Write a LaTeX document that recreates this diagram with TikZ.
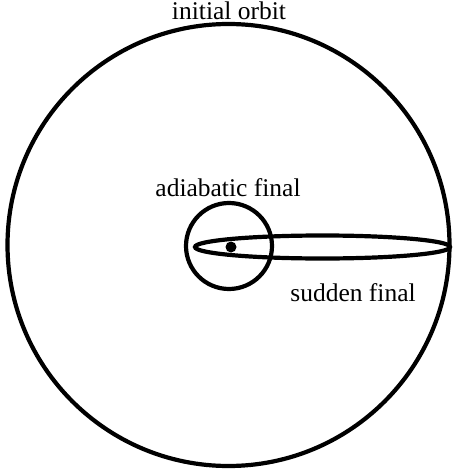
\documentclass[tikz,border=0pt]{standalone}
\usepackage{fontspec}
\setmainfont{Liberation Serif}
\usetikzlibrary{positioning}
\tikzset{orbit/.style={draw=black, line width=4.2pt},
  lbl/.style={font=\fontsize{25.5}{28}\selectfont, inner sep=0pt}}

\begin{document}
\begin{tikzpicture}[x=1pt, y=-1pt]
    \useasboundingbox (0,0) rectangle (452,476);
    \draw[orbit] (228.5,245) circle[radius=221];
    \draw[orbit] (229,246) circle[radius=43];
    \draw[orbit] (322.5,247) ellipse[x radius=127.5, y radius=11.5];
    \fill (231,247) circle[radius=5.5];
    \node[lbl] (init) at (229,11) {initial orbit};
    \node[lbl] (adia) at (228,188) {adiabatic final};
    \node[lbl] (sudd) at (353,293) {sudden final};
  \end{tikzpicture}
\end{document}
